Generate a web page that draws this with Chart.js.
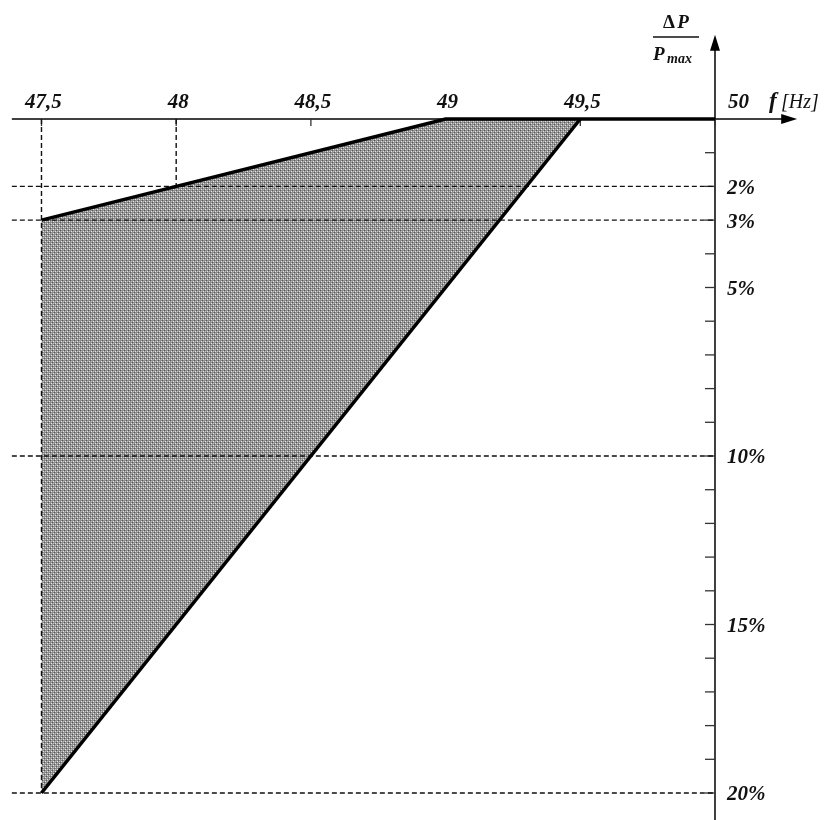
<!DOCTYPE html>
<html>
<head>
<meta charset="utf-8">
<script src="https://cdn.jsdelivr.net/npm/chart.js@4/dist/chart.umd.min.js"></script>
<style>
  html, body { margin: 0; padding: 0; background: #fff; }
  #wrap { width: 839px; height: 820px; }
</style>
</head>
<body>
<div id="wrap"><canvas id="chart" width="839" height="820"></canvas></div>
<script>
// --- data (frequency in Hz, power reduction in %) ---
const xTicks = [47.5, 48, 48.5, 49, 49.5, 50];
const xTickLabels = ['47,5', '48', '48,5', '49', '49,5', '50'];
const yLabelValues = [2, 3, 5, 10, 15, 20];
const yLabelTexts = ['2%', '3%', '5%', '10%', '15%', '20%'];
const yMinorTicks = [1, 2, 3, 4, 5, 6, 7, 8, 9, 10, 11, 12, 13, 14, 15, 16, 17, 18, 19, 20];

// upper boundary: 3% at 47.5 Hz rising to 0 at 49 Hz, then flat to 50 Hz
const upperF = [47.5, 49, 50];
const upperP = [3, 0, 0];
// lower boundary: 0 at 49.5 Hz down to 20% at 47.5 Hz
const lowerF = [49.5, 47.5];
const lowerP = [0, 20];
// shaded zone between the two
const zoneF = [47.5, 49, 49.5, 47.5];
const zoneP = [3, 0, 0, 20];

// dashed guides
const guideLevels = [2, 3, 10, 20];
const guideStartF = 47.39;
const vGuideF = [47.5, 48];
const vGuideTo = [20, 2];

// axis extents
const xAxisFrom = 47.39, xAxisTo = 50.305;
const yAxisTop = -2.5;

const pts = (xs, ys) => xs.map((x, i) => ({ x, y: ys[i] }));

// dotted grey fill like the printed hatch
function makePattern() {
    const c = document.createElement('canvas');
    c.width = 4; c.height = 4;
    const g = c.getContext('2d');
    g.fillStyle = '#8e8e8e';
    g.fillRect(0, 0, 4, 4);
    g.fillStyle = '#5a5a5a';
    g.fillRect(0, 2, 1, 1);
    g.fillRect(2, 0, 1, 1);
    g.fillStyle = '#e6e6e6';
    g.fillRect(1, 1, 1, 1);
    g.fillRect(3, 3, 1, 1);
    g.fillStyle = '#c0c0c0';
    g.fillRect(3, 1, 1, 1);
    g.fillRect(1, 3, 1, 1);
    return g.createPattern(c, 'repeat');
}

const datasets = [];
datasets.push({
    data: pts(zoneF, zoneP),
    showLine: true,
    borderWidth: 0,
    borderColor: 'rgba(0,0,0,0)',
    backgroundColor: makePattern(),
    fill: 'shape',
    pointRadius: 0,
    order: 3
});
guideLevels.forEach(lv => {
    datasets.push({
        data: [{ x: guideStartF, y: lv }, { x: 50, y: lv }],
        showLine: true,
        borderColor: '#111',
        borderWidth: 1.4,
        borderDash: [5, 3],
        pointRadius: 0,
        fill: false,
        order: 2
    });
});
vGuideF.forEach((f, i) => {
    datasets.push({
        data: [{ x: f, y: 0 }, { x: f, y: vGuideTo[i] }],
        showLine: true,
        borderColor: '#111',
        borderWidth: 1.4,
        borderDash: [5, 3],
        pointRadius: 0,
        fill: false,
        order: 2
    });
});
datasets.push({
    data: pts(upperF, upperP),
    showLine: true,
    borderColor: '#000',
    borderWidth: 3.5,
    pointRadius: 0,
    fill: false,
    order: 0
});
datasets.push({
    data: pts(lowerF, lowerP),
    showLine: true,
    borderColor: '#000',
    borderWidth: 3.5,
    pointRadius: 0,
    fill: false,
    order: 0
});

// axes, arrows and labels
const axesPlugin = {
    id: 'axes',
    beforeDatasetsDraw(chart) {
        const { ctx, scales: { x, y } } = chart;
        const x0 = x.getPixelForValue(50);
        const y0 = y.getPixelForValue(0);
        ctx.save();
        ctx.strokeStyle = '#000';
        ctx.fillStyle = '#000';
        ctx.lineWidth = 1.5;
        // horizontal axis
        const xa = x.getPixelForValue(xAxisFrom), xb = x.getPixelForValue(xAxisTo);
        ctx.beginPath();
        ctx.moveTo(xa, y0); ctx.lineTo(xb - 10, y0); ctx.stroke();
        ctx.beginPath();
        ctx.moveTo(xb, y0); ctx.lineTo(xb - 16, y0 - 5); ctx.lineTo(xb - 16, y0 + 5); ctx.closePath(); ctx.fill();
        // vertical axis
        const yt = y.getPixelForValue(yAxisTop);
        ctx.beginPath();
        ctx.moveTo(x0, chart.height); ctx.lineTo(x0, yt + 10); ctx.stroke();
        ctx.beginPath();
        ctx.moveTo(x0, yt); ctx.lineTo(x0 - 5, yt + 16); ctx.lineTo(x0 + 5, yt + 16); ctx.closePath(); ctx.fill();
        // ticks
        ctx.lineWidth = 1.3;
        ctx.strokeStyle = '#333';
        yMinorTicks.forEach(v => {
            const py = y.getPixelForValue(v);
            ctx.beginPath(); ctx.moveTo(x0 - 10, py); ctx.lineTo(x0, py); ctx.stroke();
        });
        xTicks.forEach(v => {
            const px = x.getPixelForValue(v);
            ctx.beginPath(); ctx.moveTo(px, y0); ctx.lineTo(px, y0 + 7); ctx.stroke();
        });
        ctx.restore();
    },
    afterDatasetsDraw(chart) {
        const { ctx, scales: { x, y } } = chart;
        const x0 = x.getPixelForValue(50);
        const y0 = y.getPixelForValue(0);
        ctx.save();
        ctx.fillStyle = '#111';
        ctx.font = 'italic bold 21px "Liberation Serif", serif';
        ctx.textBaseline = 'alphabetic';
        xTicks.forEach((v, i) => {
            if (v === 50) {
                ctx.textAlign = 'left';
                ctx.fillText(xTickLabels[i], x0 + 13, y0 - 11);
            } else {
                ctx.textAlign = 'center';
                ctx.fillText(xTickLabels[i], x.getPixelForValue(v) + 2, y0 - 11);
            }
        });
        ctx.textAlign = 'left';
        ctx.textBaseline = 'middle';
        yLabelValues.forEach((v, i) => {
            ctx.fillText(yLabelTexts[i], x0 + 12, y.getPixelForValue(v) + 2);
        });
        // axis titles
        ctx.textBaseline = 'alphabetic';
        ctx.font = 'italic bold 23px "Liberation Serif", serif';
        ctx.fillText('f', x0 + 54, y0 - 11);
        ctx.font = 'italic 20px "Liberation Serif", serif';
        ctx.fillText('[Hz]', x0 + 66, y0 - 11);

        ctx.textAlign = 'center';
        ctx.font = 'bold 19px "Liberation Serif", serif';
        ctx.fillText('\u0394', x0 - 46, 28);
        ctx.font = 'italic bold 19px "Liberation Serif", serif';
        ctx.fillText('P', x0 - 32, 28);
        ctx.lineWidth = 1.3;
        ctx.strokeStyle = '#111';
        ctx.beginPath(); ctx.moveTo(x0 - 62, 37); ctx.lineTo(x0 - 16, 37); ctx.stroke();
        ctx.textAlign = 'left';
        ctx.fillText('P', x0 - 62, 60);
        ctx.font = 'italic bold 14px "Liberation Serif", serif';
        ctx.fillText('max', x0 - 48, 63);
        ctx.restore();
    }
};

new Chart(document.getElementById('chart'), {
    type: 'scatter',
    data: { datasets },
    options: {
        responsive: false,
        animation: false,
        layout: { padding: 0 },
        plugins: { legend: { display: false }, tooltip: { enabled: false } },
        scales: {
            x: { type: 'linear', display: false, min: 47.346, max: 50.4603 },
            y: { type: 'linear', display: false, reverse: true, min: -3.531, max: 20.801 }
        }
    },
    plugins: [axesPlugin]
});
</script>
</body>
</html>
